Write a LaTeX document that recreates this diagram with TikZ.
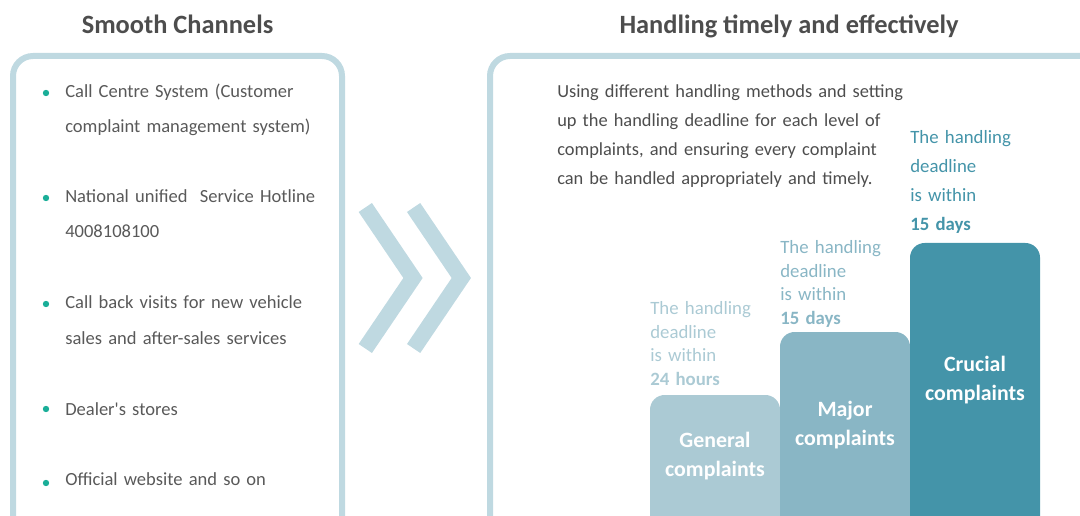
\documentclass[tikz,border=0pt]{standalone}
\usepackage{fontspec}
\setmainfont{Carlito}
\definecolor{frame}{HTML}{BFD9E1}
\definecolor{dotc}{HTML}{1AAE98}
\definecolor{txt}{HTML}{595959}
\definecolor{ttl}{HTML}{4D4D4D}
\definecolor{genc}{HTML}{ABCAD4}
\definecolor{majc}{HTML}{89B6C5}
\definecolor{cruc}{HTML}{4494A9}
\tikzset{
  panel/.style={draw=frame, line width=4.5pt, rounded corners=15pt},
  chev/.style={draw=frame, line width=12pt, miter limit=10},
  bar/.style={rounded corners=11pt},
  ttlnode/.style={anchor=base, inner sep=0, text=ttl, font=\fontsize{19.8pt}{24pt}\selectfont\bfseries},
  item/.style={anchor=base west, inner sep=0, text=txt, text width=240pt, align=left, font=\fontsize{13.9pt}{26.25pt}\selectfont},
  para/.style={anchor=base west, inner sep=0, text=ttl, text width=300pt, align=left, font=\fontsize{13.8pt}{21.75pt}\selectfont},
  dl/.style={anchor=base west, inner sep=0, text width=110pt, align=left, font=\fontsize{14.1pt}{#1}\selectfont},
  blab/.style={anchor=base, inner sep=0, text=white, text width=100pt, align=center, font=\fontsize{16.4pt}{21.75pt}\selectfont\bfseries},
  bdot/.style={fill=dotc}
}
\begin{document}
\begin{tikzpicture}[x=0.75pt, y=-0.75pt]
\useasboundingbox (0,0) rectangle (1080,516);
\clip (0,0) rectangle (1080,516);
% titles
\node[ttlnode] (t1) at (177.5,34) {Smooth Channels};
\node[ttlnode] (t2) at (789,34) {Handling timely and effectively};
% panels
\draw[panel] (13,56) rectangle (342,560);
\draw[panel] (490,56) rectangle (1120,560);
% bullets
\fill[bdot] (46,93) circle[radius=2.4pt];
\fill[bdot] (46,198) circle[radius=2.4pt];
\fill[bdot] (46,304) circle[radius=2.4pt];
\fill[bdot] (46,409) circle[radius=2.4pt];
\fill[bdot] (46,483) circle[radius=2.4pt];
\node[item] (i1) at (65,98) {Call Centre System (Customer\\complaint management system)};
\node[item] (i2) at (65,203) {National unified\ \ Service Hotline\\4008108100};
\node[item] (i3) at (65,309) {Call back visits for new vehicle\\sales and after-sales services};
\node[item] (i4) at (65,415) {Dealer\textquotesingle s stores};
\node[item] (i5) at (65,485) {Official website and so on};
% chevrons
\draw[chev] (365.3,207.5) -- (413,278) -- (365.3,348.5);
\draw[chev] (413.6,207.5) -- (461.3,278) -- (413.6,348.5);
% paragraph
\node[para] (p) at (557,98) {Using different handling methods and setting\\up the handling deadline for each level of\\complaints, and ensuring every complaint\\can be handled appropriately and timely.};
% bars
\fill[bar, genc] (650,395) rectangle (780,560);
\fill[bar, majc] (780,332) rectangle (910,560);
\fill[bar, cruc] (910,243) rectangle (1040,560);
\node[blab] (b1) at (715,447) {General\\complaints};
\node[blab] (b2) at (845,416) {Major\\complaints};
\node[blab] (b3) at (975,371) {Crucial\\complaints};
% deadline labels
\node[dl=17.6pt, text=genc] (d1) at (650,315) {The handling\\deadline\\is within\\\textbf{24 hours}};
\node[dl=17.6pt, text=majc] (d2) at (780,254) {The handling\\deadline\\is within\\\textbf{15 days}};
\node[dl=21.75pt, text=cruc] (d3) at (910,144) {The handling\\deadline\\is within\\\textbf{15 days}};
\end{tikzpicture}
\end{document}
